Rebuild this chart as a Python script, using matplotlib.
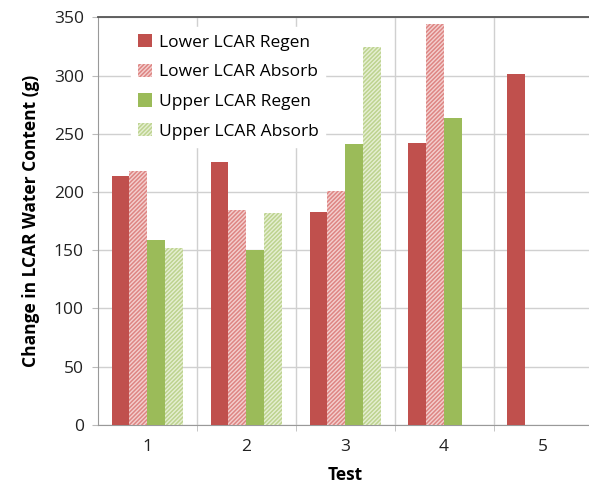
import numpy as np
import matplotlib.pyplot as plt
from matplotlib.ticker import FixedLocator

plt.rcParams['font.family'] = ['Open Sans', 'DejaVu Sans']
plt.rcParams['hatch.linewidth'] = 1.1

# data
tests = [1, 2, 3, 4, 5]
lower_regen = [214, 226, 183, 242, 301]
lower_absorb = [218, 185, 201, 344, np.nan]
upper_regen = [159, 150, 241, 264, np.nan]
upper_absorb = [152, 182, 325, np.nan, np.nan]

x = np.array(tests, dtype=float)
w = 0.18

fig = plt.figure(figsize=(5.89, 4.97), dpi=100)
ax = fig.add_axes([0.166, 0.145, 0.84, 0.82])

ax.bar(x - 0.27, lower_regen, w, color='#C0504D', label='Lower LCAR Regen', zorder=3)
ax.bar(x - 0.09, lower_absorb, w, color='#F3D0CF', edgecolor='#DE8583', hatch='////////',
       linewidth=0, label='Lower LCAR Absorb', zorder=3)
ax.bar(x + 0.09, upper_regen, w, color='#9BBB59', label='Upper LCAR Regen', zorder=3)
ax.bar(x + 0.27, upper_absorb, w, color='#E6EFD3', edgecolor='#BDD38F', hatch='////////',
       linewidth=0, label='Upper LCAR Absorb', zorder=3)

ax.set_xlim(0.5, 5.5)
ax.set_ylim(0, 350)
ax.set_yticks(range(0, 351, 50))
ax.set_xticks(tests)
ax.xaxis.set_minor_locator(FixedLocator([1.5, 2.5, 3.5, 4.5]))
ax.tick_params(axis='x', which='major', length=0, pad=10, labelsize=12.5, colors='#222222')
ax.tick_params(axis='x', which='minor', length=4, color='#BBBBBB')
ax.tick_params(axis='y', length=4, color='#BBBBBB', labelsize=12.5, labelcolor='#222222', pad=6)

ax.grid(axis='y', which='major', color='#D0D0D0', linewidth=1, zorder=0)
ax.grid(axis='x', which='minor', color='#D0D0D0', linewidth=1, zorder=0)

ax.spines['right'].set_visible(False)
ax.spines['top'].set_color('#555555')
ax.spines['top'].set_linewidth(1.3)
ax.spines['left'].set_color('#999999')
ax.spines['bottom'].set_color('#999999')

ax.set_xlabel('Test', fontsize=12.5, fontweight='bold', labelpad=8)
ax.set_ylabel('Change in LCAR Water Content (g)', fontsize=12.5, fontweight='bold', labelpad=10)

leg = ax.legend(loc='upper left', bbox_to_anchor=(0.06, 0.985), frameon=True, fontsize=12.5,
                handlelength=0.8, handleheight=0.8, handletextpad=0.4, labelspacing=0.75,
                borderaxespad=0.2)
leg.get_frame().set_facecolor('white')
leg.get_frame().set_edgecolor('white')
leg.get_frame().set_alpha(1)
leg.set_zorder(5)

fig.savefig('out.png', dpi=100)
